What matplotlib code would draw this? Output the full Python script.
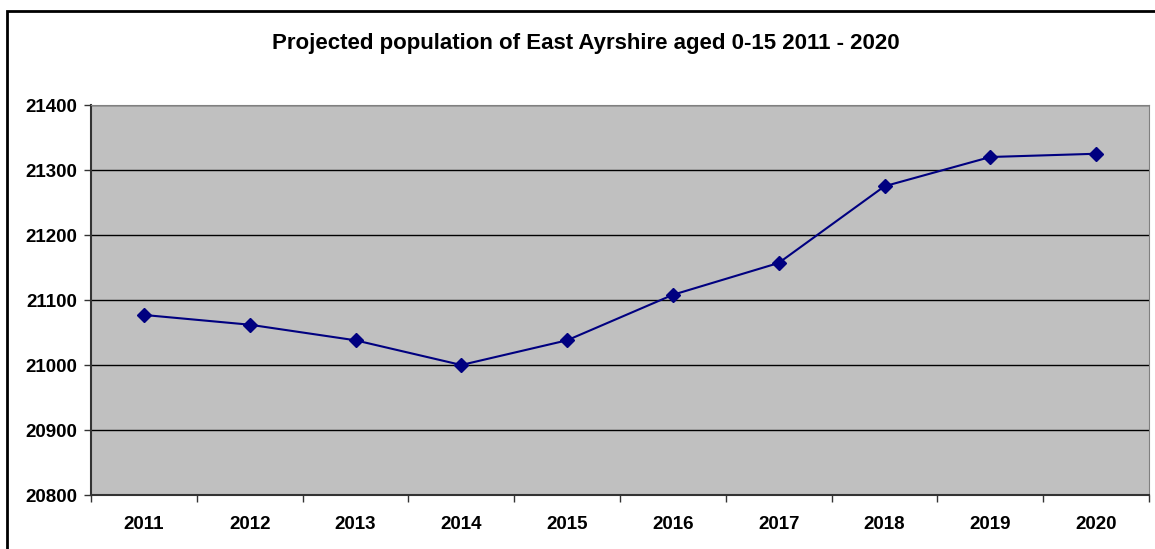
import matplotlib.pyplot as plt
from matplotlib.patches import Rectangle
import numpy as np

years = ['2011', '2012', '2013', '2014', '2015', '2016', '2017', '2018', '2019', '2020']
population = [21077, 21062, 21038, 21000, 21038, 21108, 21157, 21275, 21320, 21325]
yticks = [20800, 20900, 21000, 21100, 21200, 21300, 21400]

plt.rcParams['font.family'] = ['Liberation Sans', 'DejaVu Sans']

fig = plt.figure(figsize=(11.55, 5.49), dpi=100)
ax = fig.add_axes([91 / 1155, 1 - 495 / 549, (1149 - 91) / 1155, (495 - 105) / 549])
ax.set_facecolor('#c0c0c0')

x = np.arange(len(years))
ax.plot(x, population, color='#000080', lw=1.5, marker='D', markersize=7.5, zorder=3)

ax.set_xlim(-0.5, len(years) - 0.5)
ax.set_ylim(20800, 21400)
ax.set_yticks(yticks)
ax.set_yticklabels([str(v) for v in yticks], fontsize=13.5, fontweight='bold')
ax.set_xticks(x)
ax.set_xticklabels(years, fontsize=13.5, fontweight='bold')
ax.tick_params(axis='x', length=0, pad=15)
ax.set_xticks(np.arange(-0.5, len(years)), minor=True)
ax.tick_params(axis='x', which='minor', length=5, width=1, color='#333333')
ax.tick_params(axis='y', length=5, width=1, color='#333333', pad=5)

ax.grid(axis='y', color='black', lw=1)
ax.set_axisbelow(True)
for side in ['top', 'right']:
    ax.spines[side].set_color('#808080')
for side in ['left', 'bottom']:
    ax.spines[side].set_color('#333333')
    ax.spines[side].set_linewidth(1.5)

fig.text(0.507, 1 - 44 / 549, 'Projected population of East Ayrshire aged 0-15 2011 - 2020',
         ha='center', va='center', fontsize=16, fontweight='bold')

# outer chart frame (right and bottom edges fall outside the image)
fig.patches.append(Rectangle((7 / 1155, -0.2), 1.2, 1.2 - 11 / 549,
                             transform=fig.transFigure, fill=False, ec='black', lw=2))

fig.savefig('out.png', dpi=100)
